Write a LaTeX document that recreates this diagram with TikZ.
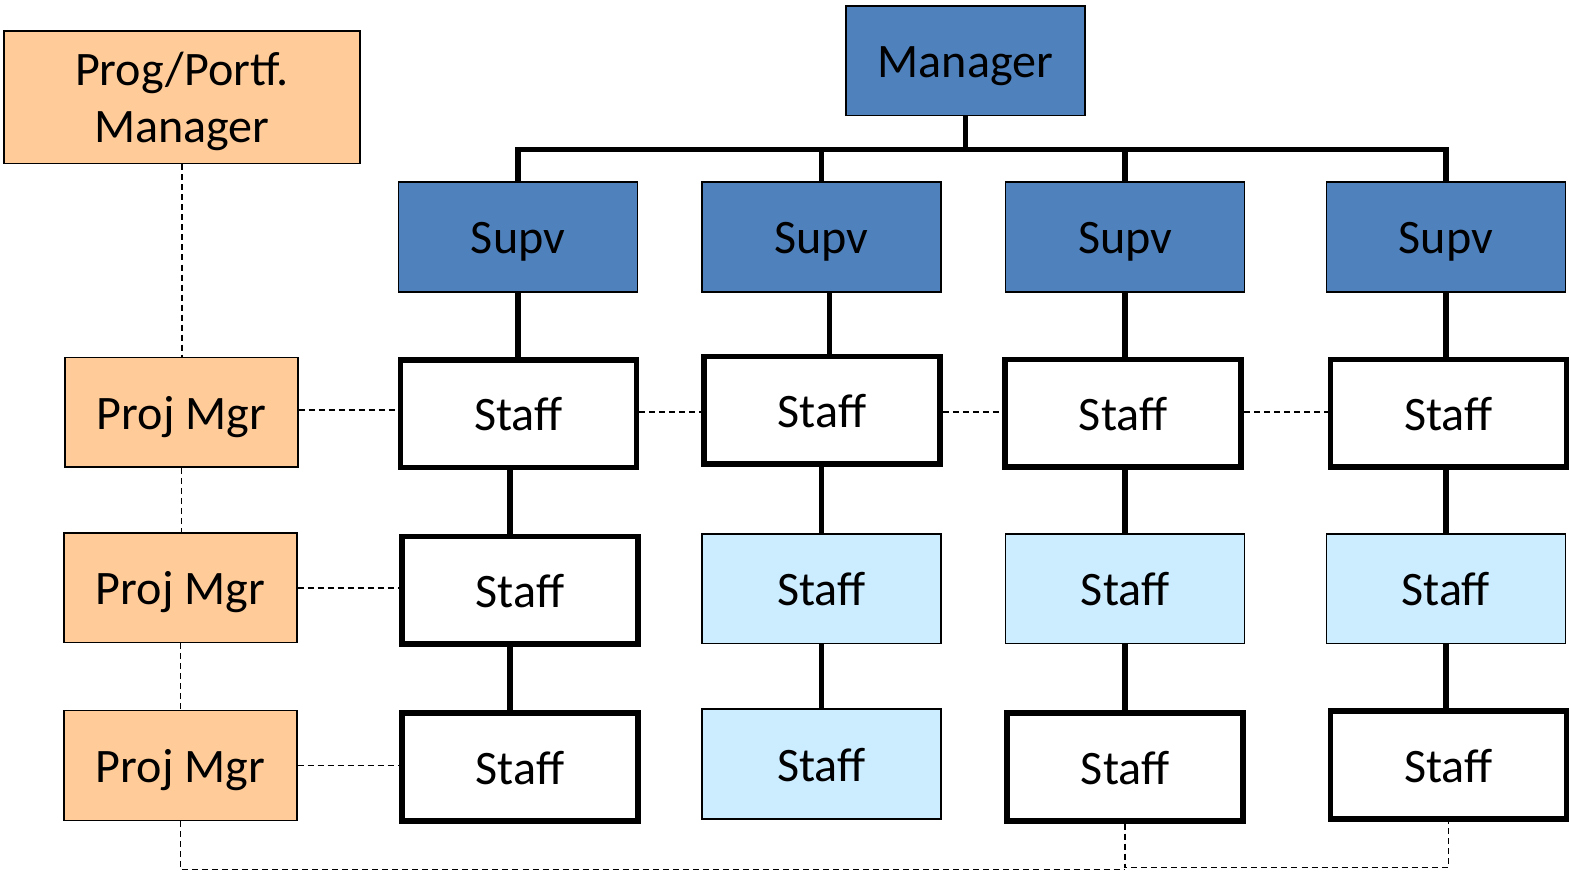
\documentclass[tikz,border=0pt]{standalone}
\usepackage{fontspec}
\setmainfont{Carlito}
\definecolor{mgrblue}{RGB}{79,129,189}
\definecolor{peach}{RGB}{255,204,153}
\definecolor{paleblue}{RGB}{204,236,255}
\begin{document}
\begin{tikzpicture}[x=1pt,y=-1pt,
  base/.style={rectangle, inner sep=0pt, align=center, text=black,
    font=\fontsize{48}{57}\selectfont, text height=34pt, text depth=0pt},
  bluebox/.style={base, fill=mgrblue, draw=black, line width=1.5pt,
    minimum width=238.5pt, minimum height=109.5pt},
  pmbox/.style={base, fill=peach, draw=black, line width=1.5pt,
    minimum width=232.5pt, minimum height=109.5pt},
  boldbox/.style={base, fill=white, draw=black, line width=5.5pt,
    minimum width=235.5pt, minimum height=107.5pt},
  palebox/.style={base, fill=paleblue, draw=black, line width=1.5pt,
    minimum width=238.5pt, minimum height=109.5pt},
  bus/.style={draw=black, line width=5.5pt, line join=miter},
  linkdash/.style={draw=black, line width=1.5pt, dash pattern=on 6pt off 4pt}
]
\useasboundingbox (0,0) rectangle (1568,872);

% program / portfolio side
\node[pmbox, minimum width=355.5pt, minimum height=132.5pt,
  text height=90pt, text depth=0pt] (prog) at (181.5,97) {Prog/Portf.\\Manager};
\node[pmbox] (pm1) at (181,411.5) {Proj Mgr};
\node[pmbox] (pm2) at (180,586.5) {Proj Mgr};
\node[pmbox] (pm3) at (180,764) {Proj Mgr};

% line organisation
\node[bluebox] (mgr) at (963.5,60.5) {Manager};
\node[bluebox] (s1) at (517,236.5) {Supv};
\node[bluebox] (s2) at (820,236.5) {Supv};
\node[bluebox] (s3) at (1123,236.5) {Supv};
\node[bluebox] (s4) at (1443,236.5) {Supv};

\node[boldbox] (r1c1) at (517.5,413) {Staff};
\node[boldbox] (r1c2) at (820.5,409.5) {Staff};
\node[boldbox] (r1c3) at (1121,412.5) {Staff};
\node[boldbox] (r1c4) at (1445.5,412.5) {Staff};

\node[boldbox] (r2c1) at (519,589) {Staff};
\node[palebox] (r2c2) at (820,587.5) {Staff};
\node[palebox] (r2c3) at (1123,587.5) {Staff};
\node[palebox] (r2c4) at (1443,587.5) {Staff};

\node[boldbox] (r3c1) at (519,765.5) {Staff};
\node[palebox] (r3c2) at (820,762.5) {Staff};
\node[boldbox] (r3c3) at (1123,765.5) {Staff};
\node[boldbox] (r3c4) at (1445.5,763.5) {Staff};

% reporting lines
\coordinate (busy) at (0,149);
\draw[bus] (s1.north) -- (s1.north |- busy) -- (s4.north |- busy) -- (s4.north);
\draw[bus] (mgr.south) -- (mgr.south |- busy);
\draw[bus] (s2.north) -- (s2.north |- busy);
\draw[bus] (s3.north) -- (s3.north |- busy);

\coordinate (c1a) at (517,0);
\coordinate (c2a) at (828,0);
\coordinate (c1b) at (509,0);
\coordinate (c2b) at (820,0);
\coordinate (c3) at (1123,0);
\coordinate (c4) at (1443,0);

\draw[bus] (c1a |- s1.south) -- (c1a |- r1c1.north);
\draw[bus] (c2a |- s2.south) -- (c2a |- r1c2.north);
\draw[bus] (c3 |- s3.south) -- (c3 |- r1c3.north);
\draw[bus] (c4 |- s4.south) -- (c4 |- r1c4.north);

\draw[bus] (c1b |- r1c1.south) -- (c1b |- r2c1.north);
\draw[bus] (c2b |- r1c2.south) -- (c2b |- r2c2.north);
\draw[bus] (c3 |- r1c3.south) -- (c3 |- r2c3.north);
\draw[bus] (c4 |- r1c4.south) -- (c4 |- r2c4.north);

\draw[bus] (c1b |- r2c1.south) -- (c1b |- r3c1.north);
\draw[bus] (c2b |- r2c2.south) -- (c2b |- r3c2.north);
\draw[bus] (c3 |- r2c3.south) -- (c3 |- r3c3.north);
\draw[bus] (c4 |- r2c4.south) -- (c4 |- r3c4.north);

% project links
\draw[linkdash] (prog.south) -- (prog.south |- pm1.north);
\draw[linkdash] (pm1.south) -- (pm1.south |- pm2.north);
\draw[linkdash] (pm2.south) -- (pm2.south |- pm3.north);

\coordinate (ya) at (0,409);
\coordinate (yb) at (0,411);
\coordinate (yc) at (0,587);
\coordinate (yd) at (0,764);
\coordinate (ye) at (0,868);
\coordinate (yf) at (0,866);

\draw[linkdash] (pm1.east |- ya) -- (r1c1.west |- ya);
\draw[linkdash] (r1c1.east |- yb) -- (r1c2.west |- yb);
\draw[linkdash] (r1c2.east |- yb) -- (r1c3.west |- yb);
\draw[linkdash] (r1c3.east |- yb) -- (r1c4.west |- yb);
\draw[linkdash] (pm2.east |- yc) -- (r2c1.west |- yc);
\draw[linkdash] (pm3.east |- yd) -- (r3c1.west |- yd);

\draw[linkdash] (pm3.south) -- (pm3.south |- ye) -- (r3c3.south |- ye);
\draw[linkdash] (r3c3.south) -- (r3c3.south |- yf) -- (r3c4.south |- yf) -- (r3c4.south);
\end{tikzpicture}
\end{document}
